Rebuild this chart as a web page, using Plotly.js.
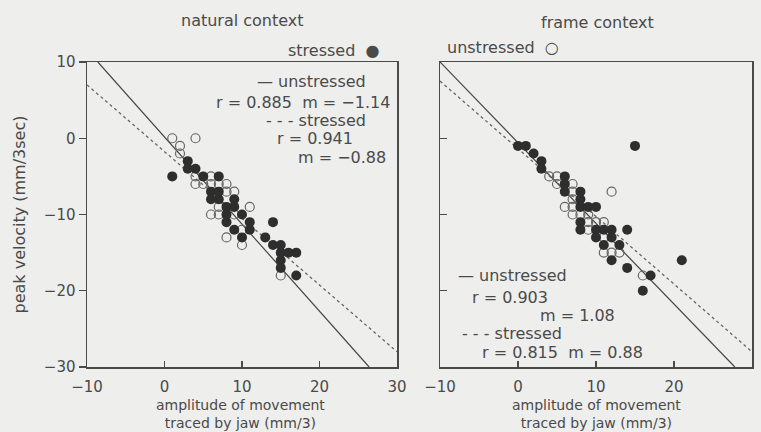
<!DOCTYPE html>
<html><head><meta charset="utf-8">
<script src="https://cdn.plot.ly/plotly-3.0.1.min.js"></script>
<style>html,body{margin:0;padding:0;background:#eeeeec}</style>
</head><body><div id="chart" style="width:761px;height:432px"></div>
<script>
// ---- natural context ----
const natStressedX = [1,3,3,4,5,7,6,7,6,7,9,8,9,8,10,8,11,9,11,10,13,14,14,15,15,16,17,15,15,17];
const natStressedY = [-5,-3,-4,-4,-5,-5,-7,-7,-8,-8,-8,-9,-9,-10,-10,-11,-11,-12,-12,-13,-13,-11,-14,-14,-15,-15,-15,-16,-17,-18];
const natUnstressedX = [1,4,2,2,4,6,4,5,6,7,8,8,9,7,11,6,7,9,10,8,10,15];
const natUnstressedY = [0,0,-1,-2,-5,-5,-6,-6,-6,-6,-6,-7,-7,-9,-9,-10,-10,-10,-12,-13,-14,-18];
const natFitUnX = [-8.6, 26.4], natFitUnY = [10, -30];
const natFitStX = [-10, 30],    natFitStY = [7.0, -28.0];

// ---- frame context ----
const frmStressedX = [0,1,2,3,3,6,6,6,8,8,8,9,10,8,8,10,11,12,14,10,12,11,13,12,14,15,21,17,16];
const frmStressedY = [-1,-1,-2,-3,-4,-5,-6,-7,-7,-8,-9,-9,-9,-11,-12,-12,-12,-12,-12,-13,-13,-14,-14,-16,-17,-1,-16,-18,-20];
const frmUnstressedX = [4,5,5,7,7,7,6,7,7,8,9,9,10,11,9,11,11,12,13,12,16];
const frmUnstressedY = [-5,-5,-6,-6,-7,-8,-9,-9,-10,-10,-10,-11,-11,-11,-12,-13,-15,-15,-15,-7,-18];
const frmFitUnX = [-10, 27.8], frmFitUnY = [10, -30];
const frmFitStX = [-10, 30],   frmFitStY = [7.5, -28.0];

const xTicks = [-10, 0, 10, 20, 30];
const yTicks = [10, 0, -10, -20, -30];

const ink = '#4a4a4a', dotInk = '#2e2e2e';
const FONT = 'DejaVu Sans';

function openTrace(x, y, xa, ya) {
  return {x, y, xaxis: xa, yaxis: ya, type: 'scatter', mode: 'markers', hoverinfo: 'skip',
    marker: {symbol: 'circle-open', size: 9, color: '#666', line: {width: 1.2, color: '#666'}}};
}
function filledTrace(x, y, xa, ya) {
  return {x, y, xaxis: xa, yaxis: ya, type: 'scatter', mode: 'markers', hoverinfo: 'skip',
    marker: {symbol: 'circle', size: 10, color: dotInk, line: {width: 0}}};
}
function lineTrace(x, y, xa, ya, dash) {
  return {x, y, xaxis: xa, yaxis: ya, type: 'scatter', mode: 'lines', hoverinfo: 'skip',
    line: {color: dash ? '#666' : '#444', width: dash ? 1.3 : 1.2, dash: dash ? 'dot' : 'solid'}};
}

const data = [
  lineTrace(natFitUnX, natFitUnY, 'x', 'y', false),
  lineTrace(natFitStX, natFitStY, 'x', 'y', true),
  openTrace(natUnstressedX, natUnstressedY, 'x', 'y'),
  filledTrace(natStressedX, natStressedY, 'x', 'y'),
  lineTrace(frmFitUnX, frmFitUnY, 'x2', 'y2', false),
  lineTrace(frmFitStX, frmFitStY, 'x2', 'y2', true),
  openTrace(frmUnstressedX, frmUnstressedY, 'x2', 'y2'),
  filledTrace(frmStressedX, frmStressedY, 'x2', 'y2'),
];

const L = 87, R = 9, T = 62, B = 65, W = 761, H = 432;
const pw = W - L - R, ph = H - T - B;
function px(x) { return (x - L) / pw; }
function py(y) { return (H - B - y) / ph; }
function ann(text, x, y, xanchor, size) {
  return {text, x: px(x), y: py(y), xref: 'paper', yref: 'paper', showarrow: false,
    xanchor: xanchor || 'center', yanchor: 'middle', font: {family: FONT, size: size || 16, color: ink}};
}

const axBase = {
  range: [-10, 30], tickvals: xTicks, ticks: 'inside', ticklen: 6, tickwidth: 1.3, tickcolor: ink,
  showline: true, linecolor: ink, linewidth: 1.5, mirror: true, showgrid: false, zeroline: false,
  ticklabelstandoff: 5, tickfont: {family: FONT, size: 15, color: ink}, fixedrange: true
};
const ayBase = {
  range: [-30, 10], tickvals: yTicks, ticklen: 7, tickwidth: 1.3, tickcolor: ink,
  showline: true, linecolor: ink, linewidth: 1.5, mirror: true, showgrid: false, zeroline: false,
  tickfont: {family: FONT, size: 15, color: ink}, fixedrange: true
};

const layout = {
  width: W, height: H, showlegend: false,
  paper_bgcolor: '#eeeeec', plot_bgcolor: '#eeeeec',
  margin: {l: L, r: R, t: T, b: B},
  xaxis: Object.assign({}, axBase, {domain: [0, px(397)], anchor: 'y'}),
  yaxis: Object.assign({}, ayBase, {domain: [0, 1], anchor: 'x', ticks: 'outside',
    title: {text: 'peak velocity (mm/3sec)', standoff: 14, font: {family: FONT, size: 16, color: ink}}}),
  xaxis2: Object.assign({}, axBase, {domain: [px(440), 1], anchor: 'y2'}),
  yaxis2: Object.assign({}, ayBase, {domain: [0, 1], anchor: 'x2', ticks: 'inside', showticklabels: false}),
  annotations: [
    ann('natural context', 242, 21),
    ann('frame context', 597, 22),
    ann('stressed  ●', 382, 50, 'right'),
    ann('unstressed  ○', 445, 48, 'left'),
    ann('— unstressed', 368, 81, 'right'),
    ann('r = 0.885  m = −1.14', 392, 102, 'right'),
    ann('- - - stressed', 368, 120, 'right'),
    ann('r = 0.941', 355, 138, 'right'),
    ann('m = −0.88', 388, 157, 'right'),
    ann('— unstressed', 456, 275, 'left'),
    ann('r = 0.903', 470, 297, 'left'),
    ann('m = 1.08', 538, 315, 'left'),
    ann('- - - stressed', 460, 333, 'left'),
    ann('r = 0.815  m = 0.88', 480, 352, 'left'),
    ann('amplitude of movement<br>traced by jaw (mm/3)', 240, 414, 'center', 14),
    ann('amplitude of movement<br>traced by jaw (mm/3)', 596, 414, 'center', 14),
  ]
};

Plotly.newPlot('chart', data, layout, {staticPlot: true, displayModeBar: false});
</script>
</body></html>
